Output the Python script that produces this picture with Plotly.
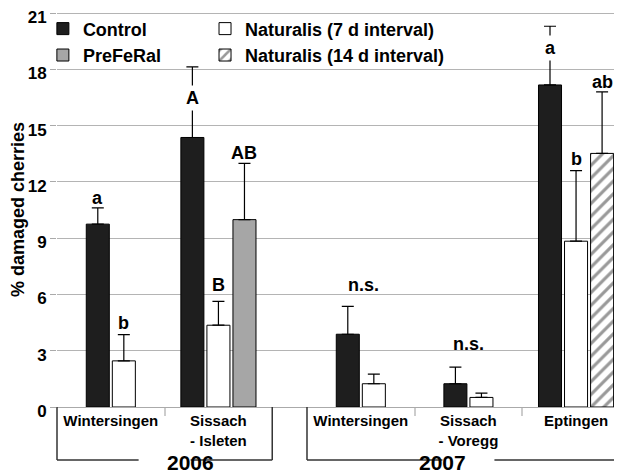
import plotly.graph_objects as go

# ---------------- data ----------------
sites = ["Wintersingen", "Sissach<br>- Isleten", "Wintersingen", "Sissach<br>- Voregg", "Eptingen"]
site_year = [0, 0, 1, 1, 1]          # 0 -> 2006, 1 -> 2007
years = ["2006", "2007"]

control_mean = [9.75, 14.37, 3.88, 1.24, 17.17]
control_se = [0.87, 3.76, 1.49, 0.89, 3.13]

nat7_mean = [2.46, 4.36, 1.24, 0.51, 8.84]
nat7_se = [1.40, 1.27, 0.51, 0.23, 3.76]

prefer_sites = [1]
prefer_mean = [9.99]
prefer_se = [3.00]

nat14_sites = [4]
nat14_mean = [13.52]
nat14_se = [3.28]

# significance letters: (site, series rank, text, y of label centre)
letter_site = [0, 0, 1, 1, 1, 4, 4, 4]
letter_rank = [0, 1, 0, 1, 2, 0, 1, 2]
letter_text = ["a", "b", "A", "B", "AB", "a", "b", "ab"]
letter_y = [11.17, 4.47, 16.5, 6.5, 13.52, 19.12, 13.2, 17.33]
ns_sites = [2, 3]
ns_y = [6.5, 3.35]

y_ticks = [0, 3, 6, 9, 12, 15, 18, 21]

# ---------------- layout helpers ----------------
year_gap = 0.323
pos = [i + year_gap * site_year[i] for i in range(len(sites))]
n_bars = [2, 3, 2, 2, 3]
bar_w = 0.214
step = 0.242
x_min, x_max = -0.5, 4.75
plot_w_px = 565


def offsets(site_idx, rank):
    return [(rank - (n_bars[s] - 1) / 2) * step - bar_w / 2 for s in site_idx]


FONT = "Liberation Sans, Arial, sans-serif"
all_sites = list(range(len(sites)))

fig = go.Figure()


def add_series(name, site_idx, mean, se, rank, marker, legend):
    fig.add_trace(go.Bar(
        name=name,
        x=[pos[s] for s in site_idx],
        y=mean,
        width=bar_w,
        offset=offsets(site_idx, rank),
        marker=marker,
        error_y=dict(type="data", symmetric=False, array=se, arrayminus=[0] * len(se),
                     color="black", thickness=1.2, width=6),
        legend=legend,
        legendgroup=name,
    ))


add_series("Control", all_sites, control_mean, control_se, 0,
           dict(color="#1e1e1e", line=dict(color="black", width=1)), "legend")
add_series("PreFeRal", prefer_sites, prefer_mean, prefer_se, 2,
           dict(color="#a6a6a6", line=dict(color="black", width=1)), "legend")
add_series("Naturalis (7 d interval)", all_sites, nat7_mean, nat7_se, 1,
           dict(color="white", line=dict(color="black", width=1)), "legend2")
add_series("Naturalis (14 d interval)", nat14_sites, nat14_mean, nat14_se, 2,
           dict(color="white", line=dict(color="black", width=1),
                pattern=dict(shape="/", fgcolor="#333333", bgcolor="white", size=9, solidity=0.35)),
           "legend2")

# letters
for s, r, t, yv in zip(letter_site, letter_rank, letter_text, letter_y):
    xc = pos[s] + (r - (n_bars[s] - 1) / 2) * step
    fig.add_annotation(x=xc, y=yv, text=t, showarrow=False, yanchor="middle",
                       font=dict(family=FONT, size=18, color="black", weight="bold"),
                       bgcolor="white" if t in ("A",) or (t == "a" and s == 4) else "rgba(0,0,0,0)",
                       borderpad=2)
for s, yv in zip(ns_sites, ns_y):
    fig.add_annotation(x=pos[s], y=yv, text="n.s.", showarrow=False, yanchor="middle",
                       xshift=3 if s == 2 else 0,
                       font=dict(family=FONT, size=18, color="black", weight="bold"))

# year brackets
def to_paper(x):
    return (x - x_min) / (x_max - x_min)

bracket_y = -0.134
label_gap = 26 / plot_w_px
year_bounds = []
for yi in range(len(years)):
    idx = [i for i in range(len(sites)) if site_year[i] == yi]
    year_bounds.append((pos[idx[0]] - 0.5, pos[idx[-1]] + 0.5))

line_style = dict(color="#333333", width=1.5)
for (a, b), label in zip(year_bounds, years):
    pa, pb = to_paper(a), to_paper(b)
    pc = (pa + pb) / 2
    fig.add_shape(type="line", xref="paper", yref="paper", x0=pa, x1=pa, y0=0, y1=bracket_y, line=line_style)
    fig.add_shape(type="line", xref="paper", yref="paper", x0=pb, x1=pb, y0=0, y1=bracket_y, line=line_style)
    fig.add_shape(type="line", xref="paper", yref="paper", x0=pa, x1=pc - label_gap,
                  y0=bracket_y, y1=bracket_y, line=line_style)
    fig.add_shape(type="line", xref="paper", yref="paper", x0=pc + label_gap, x1=pb,
                  y0=bracket_y, y1=bracket_y, line=line_style)
    fig.add_annotation(xref="paper", yref="paper", x=pc, y=bracket_y, text=label,
                       showarrow=False, yanchor="middle", yshift=-3,
                       font=dict(family=FONT, size=21, color="black", weight="bold"))

dividers = [pos[i] + 0.5 for i in range(len(sites) - 1) if site_year[i] == site_year[i + 1]]

# the page body adds an 8 px margin, so the figure is 8 px smaller than the window
fig.update_layout(
    width=614, height=466,
    margin=dict(l=49, r=0, t=4, b=67, autoexpand=False),
    paper_bgcolor="white", plot_bgcolor="white",
    barmode="overlay",
    font=dict(family=FONT, color="black"),
    showlegend=True,
    legend=dict(x=-0.025, y=1.004, xanchor="left", yanchor="top", bgcolor="rgba(0,0,0,0)",
                font=dict(family=FONT, size=18, color="black", weight="bold"),
                tracegroupgap=5, traceorder="normal"),
    legend2=dict(x=0.262, y=1.004, xanchor="left", yanchor="top", bgcolor="rgba(0,0,0,0)",
                 font=dict(family=FONT, size=18, color="black", weight="bold"),
                 tracegroupgap=5, traceorder="normal"),
    xaxis=dict(range=[x_min, x_max], tickmode="array", tickvals=pos, ticktext=sites,
               ticks="", showgrid=False, zeroline=False, showline=False, automargin=False,
               ticklabelstandoff=3,
               tickfont=dict(family=FONT, size=15, color="black", weight="bold"),
               minor=dict(tickmode="array", tickvals=dividers, ticks="outside", ticklen=8,
                          tickcolor="#cccccc", tickwidth=2, showgrid=False)),
    yaxis=dict(range=[0, 21.06], tickmode="array", tickvals=y_ticks, ticks="outside", ticklen=6,
               tickcolor="#aaaaaa", gridcolor="#b4b4b4", gridwidth=1, automargin=False,
               ticklabeloverflow="allow", ticklabelshift=4,
               zeroline=True, zerolinecolor="#aaaaaa", zerolinewidth=1, showline=False,
               tickfont=dict(family=FONT, size=17, color="black", weight="bold"),
               title=dict(text="% damaged cherries", standoff=10,
                          font=dict(family=FONT, size=18, color="black", weight="bold"))),
)

fig.write_html("out.html")
